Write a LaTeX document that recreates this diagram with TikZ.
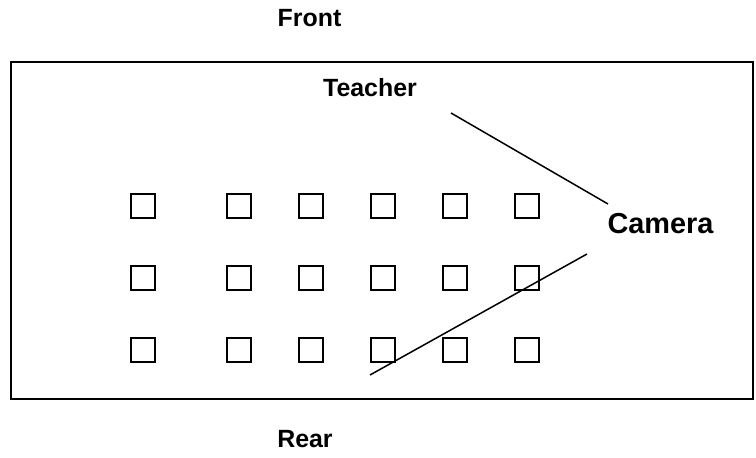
\documentclass[tikz,border=0pt]{standalone}
\usepackage{fontspec}
\setmainfont{Liberation Sans}
\begin{document}
\begin{tikzpicture}[x=1bp,y=-1bp,
  lbl/.style={font=\bfseries\fontsize{25}{30}\selectfont,anchor=base,inner sep=0pt},
  bigLbl/.style={font=\bfseries\fontsize{29}{34}\selectfont,anchor=base,inner sep=0pt},
  seat/.style={draw,line width=2bp,minimum size=23.5bp,inner sep=0pt},
  wire/.style={line width=1.5bp},
  room/.style={draw,line width=2.2bp}]
\useasboundingbox (0,0) rectangle (756,458);
\draw[room] (11,62) rectangle (753,399);
\node[lbl] (front) at (309.5,27) {Front};
\node[lbl] (teacher) at (370,97) {Teacher};
\node[bigLbl] (camera) at (660.5,234) {Camera};
\node[lbl] (rear) at (305,447) {Rear};
\foreach \r/\y in {1/206,2/278,3/350}{
  \foreach \c/\x in {1/143,2/239,3/311,4/383,5/455,6/527}{
    \node[seat] (s-\r-\c) at (\x,\y) {};
  }
}
\coordinate (t1) at (451,113);
\coordinate (c1) at (608,204);
\coordinate (c2) at (587,254);
\coordinate (b2) at (370,375);
\draw[wire] (t1) -- (c1);
\draw[wire] (c2) -- (b2);
\end{tikzpicture}
\end{document}
